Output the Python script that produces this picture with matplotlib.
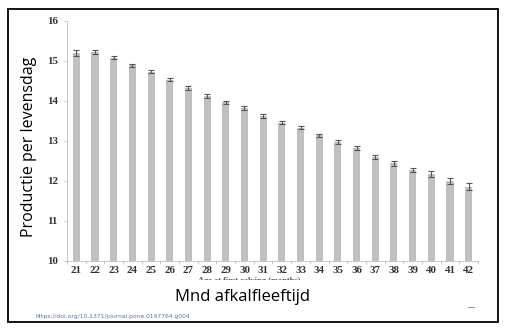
import numpy as np
import matplotlib.pyplot as plt
from matplotlib.patches import Rectangle
from matplotlib.lines import Line2D

# age at first calving (months) and production per day of life
months = list(range(21, 43))
productie = [15.20, 15.23, 15.08, 14.89, 14.73, 14.53, 14.33, 14.13, 13.96, 13.81,
             13.62, 13.45, 13.33, 13.14, 12.97, 12.83, 12.60, 12.44, 12.27, 12.17,
             11.99, 11.85]
fout = [0.07, 0.05, 0.04, 0.04, 0.04, 0.04, 0.05, 0.05, 0.04, 0.05,
        0.04, 0.04, 0.04, 0.04, 0.05, 0.05, 0.05, 0.06, 0.06, 0.07,
        0.08, 0.09]
y_ticks = [10, 11, 12, 13, 14, 15, 16]

fig = plt.figure(figsize=(5.08, 3.33), dpi=100)
ax = fig.add_axes([0.1319, 0.2171, 0.809, 0.7207])

x = np.arange(len(months))
ax.bar(x, productie, width=0.38, color="#c0c0c0",
       yerr=fout, error_kw=dict(ecolor="#555555", elinewidth=0.8, capsize=2, capthick=0.8))

ax.set_xlim(-0.5, len(months) - 0.5)
ax.set_ylim(10, 16)
ax.set_yticks(y_ticks)
ax.set_xticks(x)
ax.set_xticks(np.arange(-0.5, len(months), 1.0), minor=True)
ax.set_xticklabels([str(m) for m in months], family="Liberation Serif",
                   fontweight="bold", fontsize=7.8, color="#333333")
ax.set_yticklabels([str(t) for t in y_ticks], family="Liberation Serif",
                   fontweight="bold", fontsize=7.8, color="#333333")
ax.tick_params(axis="x", which="major", length=0, pad=4)
ax.tick_params(axis="x", which="minor", length=2.5, color="#bfbfbf", width=0.6)
ax.tick_params(axis="y", length=2.5, color="#bfbfbf", width=0.6, pad=4)

for s in ["top", "right"]:
    ax.spines[s].set_visible(False)
for s in ["left", "bottom"]:
    ax.spines[s].set_color("#bfbfbf")
    ax.spines[s].set_linewidth(0.6)

# original english axis title, mostly covered by a white box
fig.text(0.49, 0.157, "Age at first calving (months)", ha="center", va="center",
         fontsize=6, color="#555555", family="Liberation Serif", fontweight="bold",
         zorder=1)
fig.patches.append(Rectangle((0.2, 0.06), 0.6, 0.1, transform=fig.transFigure,
                             facecolor="white", edgecolor="none", zorder=2))

fig.text(0.058, 0.56, "Productie per levensdag", rotation=90, ha="center",
         va="center", fontsize=11.5, family="Open Sans", zorder=4)
fig.text(0.478, 0.108, "Mnd afkalfleeftijd", ha="center", va="center",
         fontsize=12, family="Open Sans", zorder=4)
fig.text(0.069, 0.051, "https://doi.org/10.1371/journal.pone.0197764.g004",
         ha="left", va="center", fontsize=4.3, color="#4a78b5", family="DejaVu Sans",
         zorder=4)
fig.lines.append(Line2D([0.922, 0.934], [0.077, 0.077], transform=fig.transFigure,
                        color="#999999", linewidth=0.7))

# black frame around the picture
fig.patches.append(Rectangle((0.0157, 0.033), 0.964, 0.94, transform=fig.transFigure,
                             facecolor="none", edgecolor="black", linewidth=1.3,
                             zorder=5))

fig.savefig("out.png", dpi=100)
